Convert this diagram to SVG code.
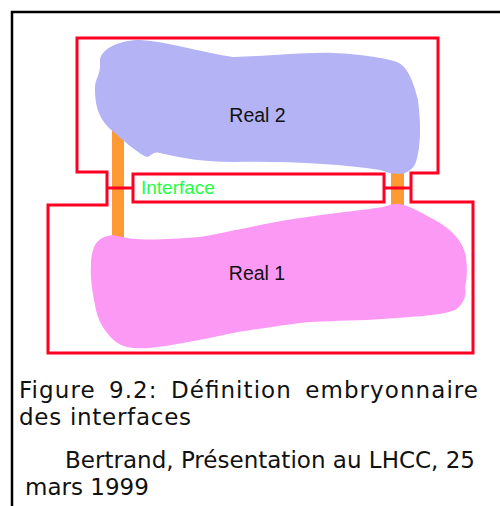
<svg xmlns="http://www.w3.org/2000/svg" width="500" height="506" viewBox="0 0 500 506">
<style>
.red{fill:none;stroke:#ff0022;stroke-width:3}
.bar{fill:#ff9933}
.lbl{font-family:"Liberation Sans",Arial,sans-serif;fill:#111}
.cap{font-family:"DejaVu Sans",Verdana,sans-serif;font-size:23px;fill:#111}
</style>
<rect width="500" height="506" fill="#fff"/>
<g id="frame"><path d="M12 506 V12 H500" fill="none" stroke="#000" stroke-width="2.5"/></g>
<g id="connectors">
<rect class="bar" x="112" y="120" width="12" height="118"/>
<rect class="bar" x="391" y="165" width="13" height="44"/>
</g>
<g id="real2">
<path fill="#b3b3f5" d="M100 62 C99 50 118 40 140 40 C170 42 200 52 233 57 C270 56 310 52 333 53 C360 54 385 58 397 62 C407 66 413 80 418 100 C421 125 421 145 416 162 C413 170 406 174 399 174 C390 174 384 171 380 170 C340 164 290 161 233 162 C205 162 180 158 160 153 C152 151 151 157 147 157 C140 155 120 138 108 127 C97 115 95 103 95 88 C95 78 101 75 100 62 Z"/>
<text class="lbl" x="257.5" y="122" font-size="19.5" text-anchor="middle">Real 2</text>
</g>
<g id="real1">
<path fill="#fc99f5" d="M98 241 C104 236 110 234 118 236 C135 241 160 240 200 237 C230 232 260 224 300 218 C340 212 365 210 383 207 C390 205 395 203 400 204 C410 206 420 212 433 219 C450 228 462 240 465 253 C468 265 467 280 465 287 C467 296 463 305 455 310 C440 316 410 317 367 320 C340 321 320 321 300 323 C270 327 250 330 233 333 C200 340 175 345 150 348 C135 349 124 348 116 342 C105 333 97 320 95 305 C92 290 90 275 91 265 C91 255 93 246 98 241 Z"/>
<text class="lbl" x="257" y="280" font-size="19.5" text-anchor="middle">Real 1</text>
</g>
<g id="outline">
<path class="red" d="M77 38 H438 V173 H411 V202 H473 V353 H48 V205 H107 V172 H77 Z"/>
</g>
<g id="interface">
<rect class="red" x="133" y="174" width="251" height="28"/>
<text x="141" y="194" font-family="Liberation Sans,Arial,sans-serif" font-size="19" fill="#22ff44">Interface</text>
</g>
<g id="links">
<path class="red" d="M107 188 H133 M384 188 H411"/>
</g>
<g id="caption">
<text class="cap" x="19" y="398" word-spacing="5" textLength="459" lengthAdjust="spacing">Figure 9.2: Définition embryonnaire</text>
<text class="cap" x="19" y="425" textLength="172" lengthAdjust="spacing">des interfaces</text>
<text class="cap" x="65" y="468" textLength="410" lengthAdjust="spacing">Bertrand, Présentation au LHCC, 25</text>
<text class="cap" x="25" y="495">mars 1999</text>
</g>
</svg>
